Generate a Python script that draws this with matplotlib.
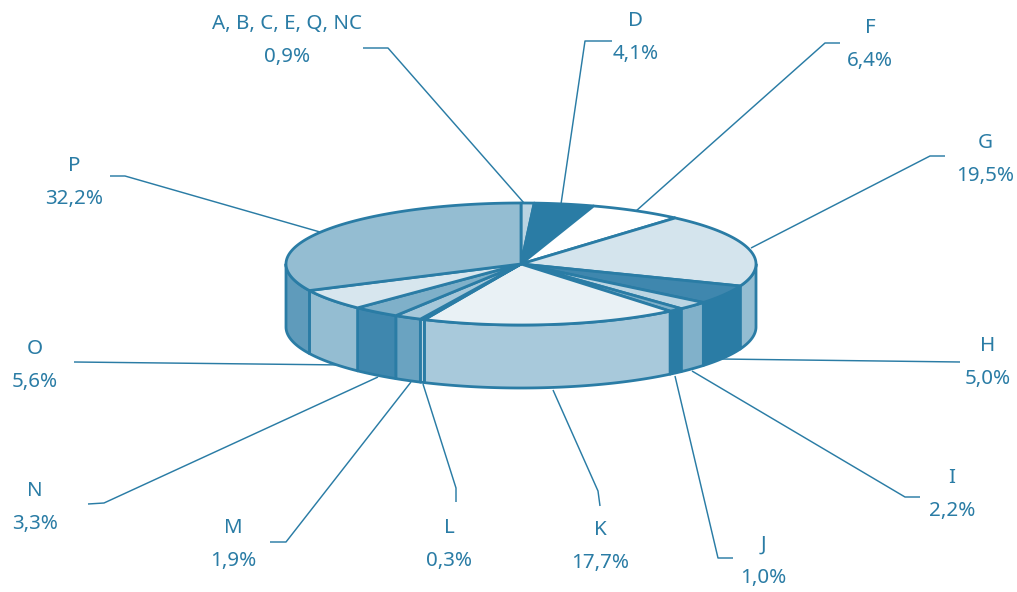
import numpy as np
import matplotlib
matplotlib.use("Agg")
import matplotlib.pyplot as plt
from matplotlib.patches import Polygon

categories = ["A, B, C, E, Q, NC", "D", "F", "G", "H", "I", "J", "K", "L", "M", "N", "O", "P"]
values = [0.9, 4.1, 6.4, 19.5, 5.0, 2.2, 1.0, 17.7, 0.3, 1.9, 3.3, 5.6, 32.2]
value_labels = ["0,9%", "4,1%", "6,4%", "19,5%", "5,0%", "2,2%", "1,0%", "17,7%", "0,3%", "1,9%", "3,3%", "5,6%", "32,2%"]
top_colors = ["#BAD4E2", "#2A7CA5", "#FFFFFF", "#D4E4ED", "#3F87AE", "#BBD5E3", "#7FB0C9",
              "#E9F1F5", "#BBD5E3", "#A6C8DA", "#7FB0C9", "#D7E6EE", "#94BDD2"]
side_colors = ["#94BDD2", "#2A7CA5", "#D4E4ED", "#94BDD2", "#2A7CA5", "#81B1CA", "#2A7CA5",
               "#A8C9DB", "#BBD5E3", "#6AA3C1", "#3F87AE", "#94BDD2", "#5F9BBB"]

# layout (pixels)
label_pos = [(287, 24), (636, 21), (870, 28), (985, 143), (988, 346), (952, 478), (763, 545),
             (600, 530), (449, 528), (233, 528), (35, 491), (35, 349), (74, 166)]
leaders = [
    [(363, 48), (388, 48), (524, 203)],
    [(612, 41), (585, 41), (561, 204)],
    [(840, 43), (825, 43), (636, 211)],
    [(945, 156), (930, 156), (751, 248)],
    [(960, 362), (720, 359)],
    [(920, 497), (905, 497), (692, 371)],
    [(733, 558), (718, 558), (675, 376)],
    [(600, 506), (598, 491), (553, 390)],
    [(456, 502), (456, 488), (423, 384)],
    [(270, 542), (286, 542), (411, 382)],
    [(88, 504), (104, 503), (378, 377)],
    [(74, 362), (345, 365)],
    [(110, 176), (125, 176), (320, 232)],
]
cx, cy, rx, ry, depth = 521, 264, 235, 61, 63
edge = "#2A7CA5"
text_color = "#2A7CA5"
font = "Noto Sans"

fig = plt.figure(figsize=(10.17, 5.92), dpi=100)
ax = fig.add_axes([0, 0, 1, 1])
ax.set_xlim(0, 1017)
ax.set_ylim(592, 0)
ax.axis("off")

shares = np.array(values) / np.sum(values)
bounds = np.concatenate([[0], np.cumsum(shares)]) * 2 * np.pi


def rim(a0, a1, dy=0.0):
    t = np.linspace(a0, a1, max(3, int(abs(a1 - a0) * 80)))
    return np.column_stack([cx + rx * np.sin(t), cy - ry * np.cos(t) + dy])


for seg in leaders:
    xs, ys = zip(*seg)
    ax.plot(xs, ys, color=edge, lw=1.05, zorder=1, solid_capstyle="butt")

# sides: visible only on the front half
for i in range(len(values)):
    a0, a1 = max(bounds[i], np.pi / 2), min(bounds[i + 1], 3 * np.pi / 2)
    if a1 <= a0:
        continue
    upper = rim(a0, a1)
    lower = rim(a0, a1, depth)[::-1]
    ax.add_patch(Polygon(np.vstack([upper, lower]), closed=True, facecolor=side_colors[i],
                         edgecolor=edge, lw=2.0, joinstyle="round", zorder=2))

# top faces
for i in range(len(values)):
    pts = np.vstack([[cx, cy], rim(bounds[i], bounds[i + 1])])
    ax.add_patch(Polygon(pts, closed=True, facecolor=top_colors[i], edgecolor=edge,
                         lw=2.0, joinstyle="round", zorder=3))

for name, val, (x, y) in zip(categories, value_labels, label_pos):
    ax.text(x, y, name, color=text_color, fontsize=14.8, family=font, ha="center", va="center")
    ax.text(x, y + 33, val, color=text_color, fontsize=14.8, family=font, ha="center", va="center")

fig.savefig("out.png", dpi=100)
